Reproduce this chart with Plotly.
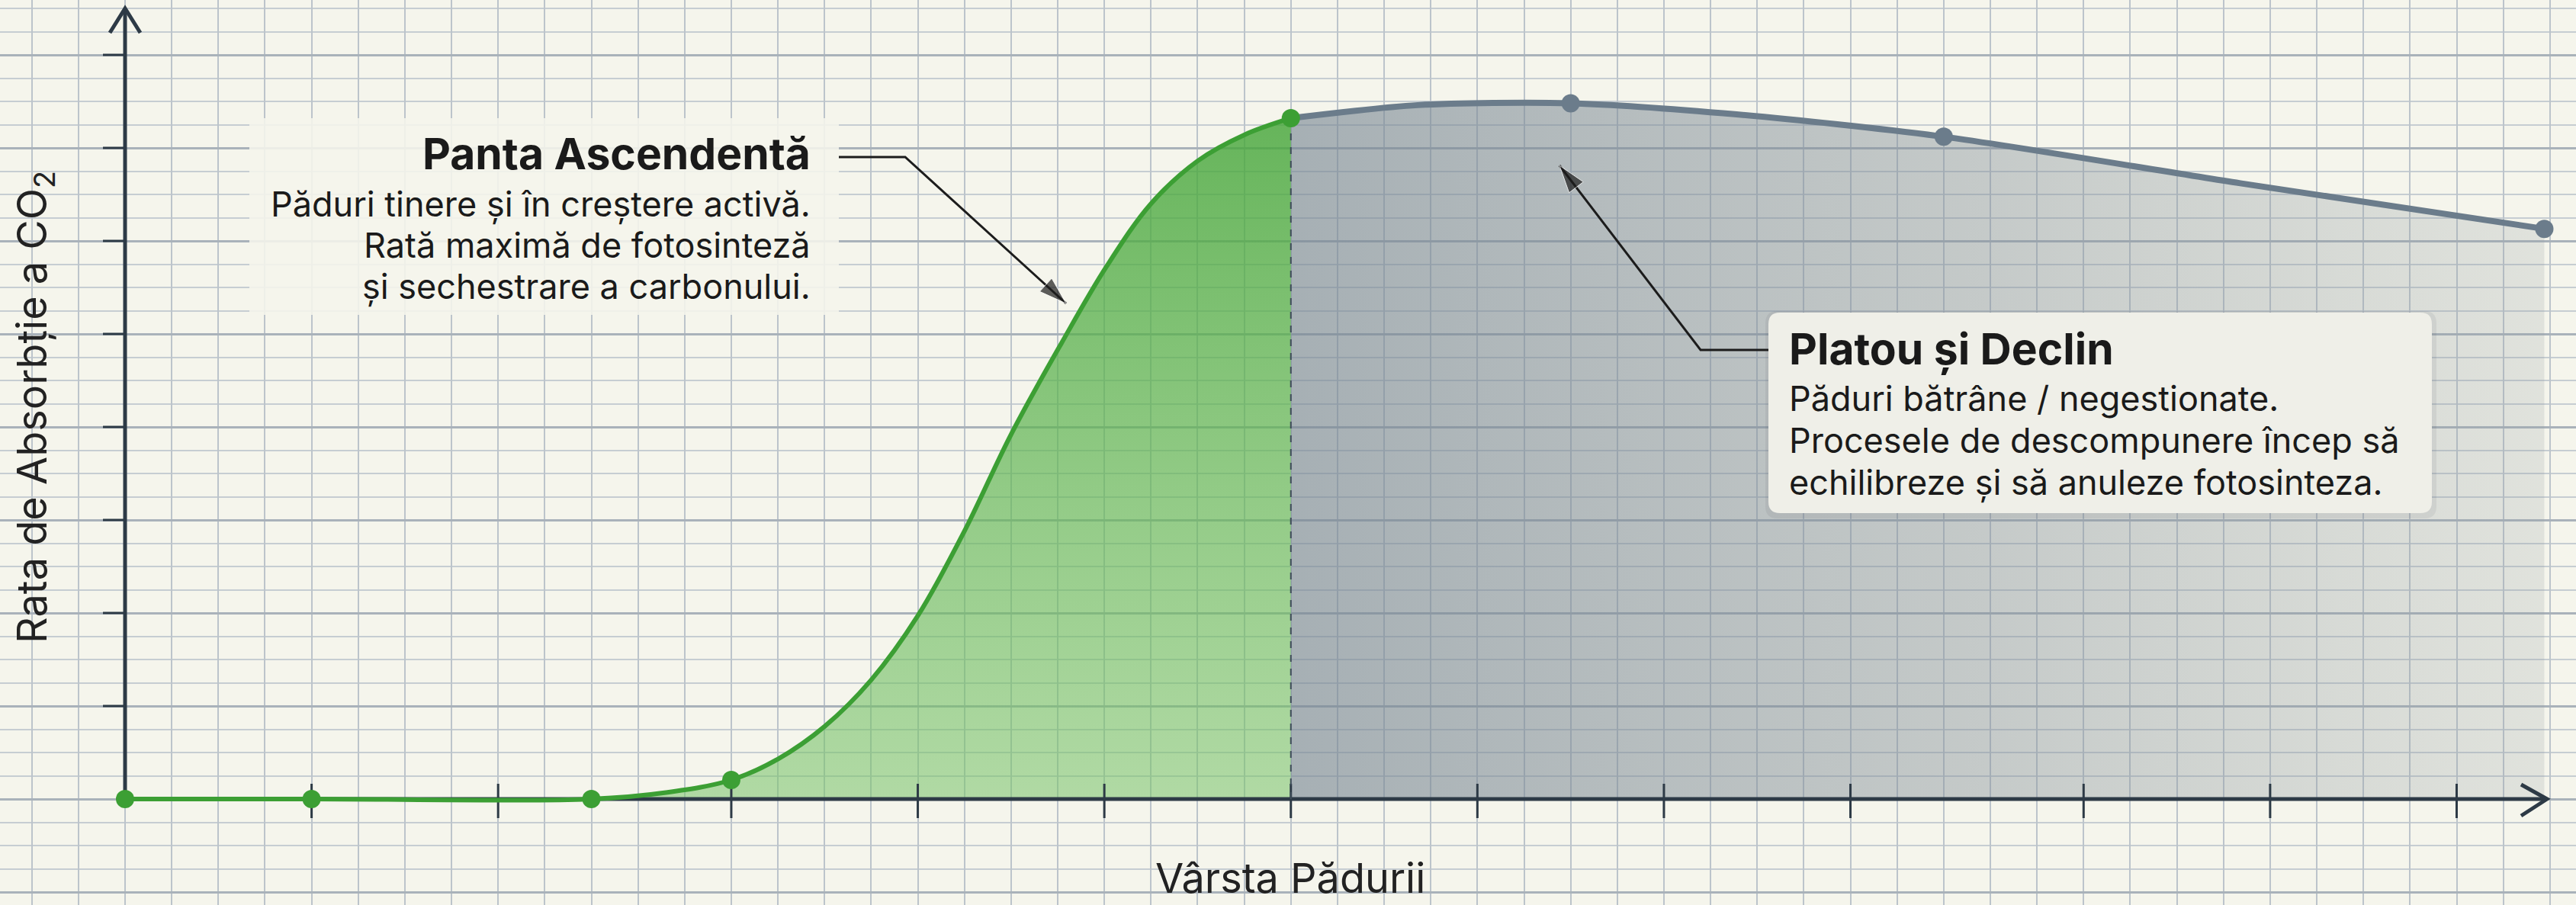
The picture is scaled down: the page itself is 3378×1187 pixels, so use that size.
import plotly.graph_objects as go

# ---------------- data ----------------
# forest age in "tick units", CO2 absorption rate in "tick units"
green_age = [0, 1, 2.5, 2.9, 3.25, 3.5, 3.75, 4.0, 4.25, 4.5, 4.75, 5.02, 5.26, 5.5, 5.75, 6.0, 6.25]
green_rate = [0, 0, 0, 0.07, 0.205, 0.43, 0.78, 1.28, 1.97, 2.88, 3.92, 4.9, 5.72, 6.4, 6.86, 7.14, 7.32]
green_marker_age = [0, 1, 2.5, 3.25, 6.25]

gray_age = [6.25, 6.93, 7.75, 8.64, 9.75, 11.34, 12.97]
gray_rate = [7.32, 7.46, 7.48, 7.36, 7.12, 6.62, 6.13]
gray_marker_age = [7.75, 9.75, 12.97]

x_tick_vals = [1, 2, 3.25, 4.25, 5.25, 6.25, 7.25, 8.25, 9.25, 10.5, 11.5, 12.5]
y_tick_vals = [1, 2, 3, 4, 5, 6, 7, 8]

x_title = "Vârsta Pădurii"
y_title = "Rata de Absorbție a CO<sub>2</sub>"
left_title = "Panta Ascendentă"
left_lines = ["Păduri tinere și în creștere activă.",
              "Rată maximă de fotosinteză",
              "și sechestrare a carbonului."]
right_title = "Platou și Declin"
right_lines = ["Păduri bătrâne / negestionate.",
               "Procesele de descompunere încep să",
               "echilibreze și să anuleze fotosinteza."]

# ---------------- layout helpers (pixel -> axis units) ----------------
W, H = 3378, 1187
X0_PX, XS = 164, 244.6
Y0_PX, YS = 1048, 122.0


def X(px):
    return (px - X0_PX) / XS


def Y(py):
    return (Y0_PX - py) / YS


BG = "#f5f5ec"
AXIS = "#2d3a46"
GREEN = "#3c9f34"
SLATE = "#6b7c8b"
INK = "#1c1c1c"
FONT = "Inter, Liberation Sans, Arial, sans-serif"

g_lookup = dict(zip(green_age, green_rate))
s_lookup = dict(zip(gray_age, gray_rate))
green_marker_rate = [g_lookup[a] for a in green_marker_age]
gray_marker_rate = [s_lookup[a] for a in gray_marker_age]

fig = go.Figure()

# gray fill (plateau & decline)
fig.add_trace(go.Scatter(
    x=gray_age, y=gray_rate, mode="lines", line=dict(width=0, shape="spline", smoothing=0.8),
    fill="tozeroy",
    fillgradient=dict(type="horizontal", start=gray_age[0], stop=gray_age[-1],
                      colorscale=[[0, "rgba(118,133,146,0.62)"], [0.55, "rgba(130,142,152,0.42)"],
                                  [1, "rgba(150,160,165,0.22)"]]),
    hoverinfo="skip", showlegend=False))

# green fill (ascending slope)
fig.add_trace(go.Scatter(
    x=green_age, y=green_rate, mode="lines", line=dict(width=0, shape="spline", smoothing=1.0),
    fill="tozeroy",
    fillgradient=dict(type="vertical", start=0, stop=green_rate[-1],
                      colorscale=[[0, "rgba(120,195,105,0.55)"], [1, "rgba(70,166,58,0.82)"]]),
    hoverinfo="skip", showlegend=False))

# axes lines with arrow chevrons
ax_x = [0, X(3340), None, X(3306), X(3340), X(3306), None, 0, 0, None, X(144), 0, X(184)]
ax_y = [0, 0, None, Y(1029), 0, Y(1070), None, 0, Y(11), None, Y(43), Y(11), Y(43)]
fig.add_trace(go.Scatter(x=ax_x, y=ax_y, mode="lines",
                         line=dict(color=AXIS, width=5), hoverinfo="skip", showlegend=False))

# tick marks
tx, ty = [], []
for t in x_tick_vals:
    tx += [t, t, None]
    ty += [Y(1028), Y(1073), None]
for t in y_tick_vals:
    tx += [X(135), 0, None]
    ty += [t, t, None]
fig.add_trace(go.Scatter(x=tx, y=ty, mode="lines", line=dict(color=AXIS, width=3),
                         hoverinfo="skip", showlegend=False))

# dashed boundary
fig.add_trace(go.Scatter(x=[green_age[-1], green_age[-1]], y=[0, green_rate[-1]], mode="lines",
                         line=dict(color="#3e4c58", width=2, dash="dash"),
                         hoverinfo="skip", showlegend=False))

# curves
fig.add_trace(go.Scatter(x=gray_age, y=gray_rate, mode="lines",
                         line=dict(color=SLATE, width=8, shape="spline", smoothing=0.8),
                         hoverinfo="skip", showlegend=False))
fig.add_trace(go.Scatter(x=green_age, y=green_rate, mode="lines",
                         line=dict(color=GREEN, width=6, shape="spline", smoothing=1.0),
                         hoverinfo="skip", showlegend=False))
# markers
fig.add_trace(go.Scatter(x=gray_marker_age, y=gray_marker_rate, mode="markers",
                         marker=dict(color=SLATE, size=24), hoverinfo="skip", showlegend=False))
fig.add_trace(go.Scatter(x=green_marker_age, y=green_marker_rate, mode="markers",
                         marker=dict(color=GREEN, size=24), hoverinfo="skip", showlegend=False))

shapes = []
# left annotation panel (covers grid)
shapes.append(dict(type="rect", xref="x", yref="y", x0=X(327), x1=X(1100), y0=Y(413), y1=Y(155),
                   fillcolor="rgba(245,245,236,0.88)", line=dict(width=0), layer="between"))


def rounded(x0p, y0p, x1p, y1p, r):
    x0, x1 = X(x0p), X(x1p)
    top, bot = Y(y0p), Y(y1p)
    rx, ry = r / XS, r / YS
    return (f"M {x0+rx},{top} L {x1-rx},{top} Q {x1},{top} {x1},{top-ry} "
            f"L {x1},{bot+ry} Q {x1},{bot} {x1-rx},{bot} L {x0+rx},{bot} "
            f"Q {x0},{bot} {x0},{bot+ry} L {x0},{top-ry} Q {x0},{top} {x0+rx},{top} Z")


shapes.append(dict(type="path", xref="x", yref="y", path=rounded(2315, 408, 3195, 680, 16),
                   fillcolor="rgba(60,70,80,0.08)", line=dict(width=0), layer="above"))
shapes.append(dict(type="path", xref="x", yref="y", path=rounded(2319, 410, 3189, 673, 15),
                   fillcolor="#efefe8", line=dict(width=0), layer="above"))
fig.update_layout(shapes=shapes)

# leader arrows (polyline + arrow head at the tip)
for px_x, px_y in [([1100, 1187, 1398], [206, 206, 398]), ([2319, 2230, 2045], [459, 459, 217])]:
    fig.add_trace(go.Scatter(
        x=[X(v) for v in px_x], y=[Y(v) for v in px_y], mode="lines+markers",
        line=dict(color=INK, width=3),
        marker=dict(symbol="arrow", angleref="previous", size=[0, 0, 38], color=INK),
        hoverinfo="skip", showlegend=False, cliponaxis=False))

annotations = []


def text_at(txt, xpx, baseline_px, size, anchor, bold=False, color="#1a1a1a"):
    annotations.append(dict(
        x=X(xpx), y=Y(baseline_px - 0.355 * size), xref="x", yref="y", text=txt,
        showarrow=False, xanchor=anchor, yanchor="middle",
        font=dict(family=FONT, size=size, color=color, weight=700 if bold else 400)))


text_at(left_title, 1065, 222, 57, "right", bold=True)
for line, b in zip(left_lines, [283, 337, 391]):
    text_at(line, 1065, b, 45, "right")
text_at(right_title, 2344, 478, 57, "left", bold=True)
for line, b in zip(right_lines, [538, 593, 648]):
    text_at(line, 2344, b, 45, "left")

# axis titles
annotations.append(dict(x=X(1692), y=Y(1186), xref="x", yref="y", text=x_title, showarrow=False,
                        xanchor="center", yanchor="bottom",
                        font=dict(family=FONT, size=54, color="#222222")))
annotations.append(dict(x=X(45), y=Y(534), xref="x", yref="y", text=y_title, showarrow=False,
                        textangle=-90, xanchor="center", yanchor="middle",
                        font=dict(family=FONT, size=54, color="#222222")))

fig.update_layout(
    width=W, height=H, margin=dict(l=0, r=0, t=0, b=0),
    paper_bgcolor=BG, plot_bgcolor=BG,
    annotations=annotations, showlegend=False,
    xaxis=dict(range=[X(0), X(W)], showgrid=True, tick0=0, dtick=0.25,
               gridcolor="#bcc4cb", gridwidth=1.5, zeroline=False, showticklabels=False,
               showline=False, ticks="", fixedrange=True),
    yaxis=dict(range=[Y(H), Y(0)], showgrid=True, tick0=0, dtick=1,
               gridcolor="#a9b2ba", gridwidth=2.5, zeroline=False, showticklabels=False,
               showline=False, ticks="", fixedrange=True,
               minor=dict(tick0=0, dtick=0.25, showgrid=True, gridcolor="#c6cdd2", gridwidth=1.5)),
)

fig.write_html("out.html", config={"displayModeBar": False},
               post_script="document.body.style.margin='0';document.body.style.overflow='hidden';")
